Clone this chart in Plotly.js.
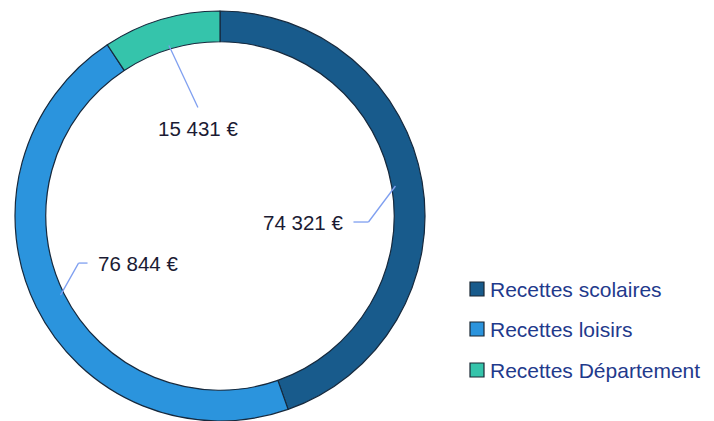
<!DOCTYPE html>
<html><head><meta charset="utf-8">
<script src="https://cdn.plot.ly/plotly-3.0.1.min.js"></script>
<style>html,body{margin:0;padding:0;background:#fff}#c{width:714px;height:421px}</style>
</head><body><div id="c"></div>
<script>
const categories = ["Recettes scolaires", "Recettes loisirs", "Recettes Département"];
const values = [74321, 76844, 15431];
const valueLabels = ["74 321 €", "76 844 €", "15 431 €"];
const colors = ["#185b8c", "#2b94dd", "#35c4ab"];

const W = 714, H = 421;
const cx = 220, cy = 216, R = 205;
const dom = {x: [(cx - R) / W, (cx + R) / W], y: [(H - cy - R) / H, (H - cy + R) / H]};
const FONT = "Liberation Sans, Arial, sans-serif";

const total = values.reduce((a, b) => a + b, 0);
let acc = 0;
const shapes = [], annotations = [];
const leader = [
  {dx: -27, dy: 36, hx: -15, anchor: "right", tx: -8, ty: 0},
  {dx: 18, dy: -32, hx: 9, anchor: "left", tx: 8, ty: 0},
  {dx: 29, dy: 62, hx: 0, anchor: "center", tx: 0, ty: 21}
];
const px = x => x / W, py = y => 1 - y / H;
values.forEach((v, i) => {
  const mid = (acc + v / 2) / total * 2 * Math.PI;
  acc += v;
  const r0 = 178;
  const x0 = cx + r0 * Math.sin(mid), y0 = cy - r0 * Math.cos(mid);
  const L = leader[i];
  const x1 = x0 + L.dx, y1 = y0 + L.dy;
  const x2 = x1 + L.hx;
  shapes.push({type: "line", xref: "paper", yref: "paper", x0: px(x0), y0: py(y0), x1: px(x1), y1: py(y1), line: {color: "#7f9ff0", width: 1.3}});
  if (L.hx) shapes.push({type: "line", xref: "paper", yref: "paper", x0: px(x1), y0: py(y1), x1: px(x2), y1: py(y1), line: {color: "#7f9ff0", width: 1.3}});
  annotations.push({xref: "paper", yref: "paper", x: px(x2 + L.tx), y: py(y1 + L.ty), text: valueLabels[i], showarrow: false,
    xanchor: L.anchor, yanchor: "middle", font: {family: FONT, size: 20.5, color: "#1b1b33"}});
});

// manual legend
const legX = 470, legY0 = 289, legStep = 40;
categories.forEach((c, i) => {
  const y = legY0 + i * legStep + (i === 2 ? 1 : 0);
  shapes.push({type: "rect", xref: "paper", yref: "paper", x0: px(legX), x1: px(legX + 14), y0: py(y - 7), y1: py(y + 7),
    fillcolor: colors[i], line: {color: "#1a2633", width: 1.2}});
  annotations.push({xref: "paper", yref: "paper", x: px(legX + 18), y: py(y), text: c, showarrow: false, xanchor: "left", yanchor: "middle",
    font: {family: FONT, size: 21, color: "#1f3a8c"}});
});

Plotly.newPlot("c", [{
  type: "pie", labels: categories, values: values, hole: 0.85, sort: false, direction: "clockwise", rotation: 0,
  marker: {colors: colors, line: {color: "#16293d", width: 1.2}},
  textinfo: "none", hoverinfo: "label+value", domain: dom
}], {
  width: W, height: H, margin: {l: 0, r: 0, t: 0, b: 0}, paper_bgcolor: "#fff",
  showlegend: false,
  shapes: shapes, annotations: annotations
}, {displayModeBar: false, staticPlot: true});
</script></body></html>
